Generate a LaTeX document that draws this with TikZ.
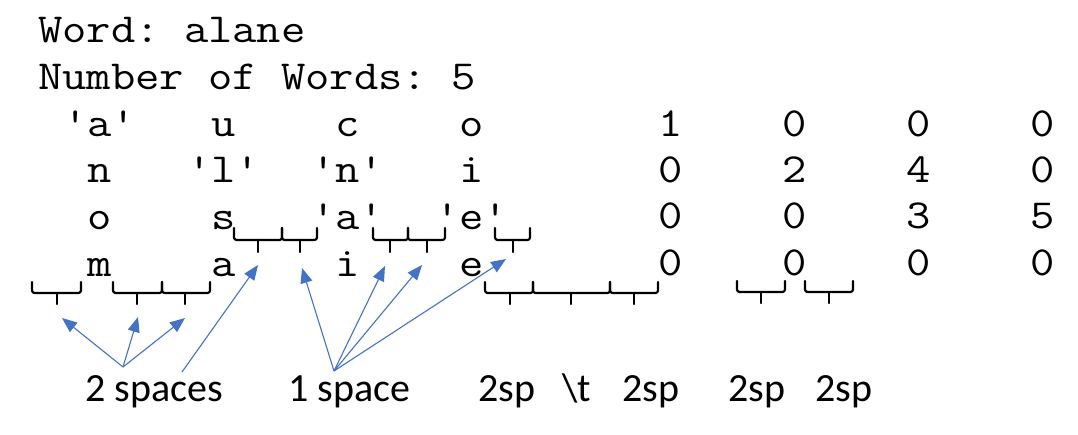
\documentclass[tikz,border=0pt]{standalone}
\usepackage{fontspec}
\setmainfont{Carlito}
\setmonofont{Latin Modern Mono}[FakeStretch=1.143]
\usetikzlibrary{arrows.meta}
\definecolor{arrblue}{HTML}{4472C4}
\tikzset{
  mono/.style={anchor=base west, inner sep=0pt, font=\ttfamily\fontsize{41.3}{48}\selectfont},
  lab/.style={anchor=base west, inner sep=0pt, font=\fontsize{40}{48}\selectfont},
  brc/.style={black, line width=2.2pt, rounded corners=2.5pt, line cap=round, line join=round},
  arr/.style={arrblue, line width=1.1pt, -{Triangle[length=15pt,width=12pt]}},
}
% \ubr{x1}{x2}{xm}{ytop}{yline}{ybot}
\newcommand\ubr[6]{%
  \draw[brc] (#1,#4) -- (#1,#5) -- (#2,#5) -- (#2,#4);
  \draw[brc] (#3,#5) -- (#3,#6);}
\begin{document}
\begin{tikzpicture}[x=1pt,y=-1pt]
\useasboundingbox (0,0) rectangle (1078,435);
% header lines
\node[mono] (w1) at (38,43) {Word: alane};
\node[mono] (w2) at (38,90) {Number of Words: 5};
% row 3
\node[mono] (r3a) at (62.8,137) {'a'};
\node[mono] (r3b) at (211.6,137) {u};
\node[mono] (r3c) at (335.6,137) {c};
\node[mono] (r3d) at (459.6,137) {o};
\node[mono] (r3e) at (658,137) {1};
\node[mono] (r3f) at (782,137) {0};
\node[mono] (r3g) at (906,137) {0};
\node[mono] (r3h) at (1030,137) {0};
% row 4
\node[mono] (r4a) at (87.6,183) {n};
\node[mono] (r4b) at (186.8,183) {'l'};
\node[mono] (r4c) at (310.8,183) {'n'};
\node[mono] (r4d) at (459.6,183) {i};
\node[mono] (r4e) at (658,183) {0};
\node[mono] (r4f) at (782,183) {2};
\node[mono] (r4g) at (906,183) {4};
\node[mono] (r4h) at (1030,183) {0};
% row 5
\node[mono] (r5a) at (87.6,230) {o};
\node[mono] (r5b) at (211.6,230) {s};
\node[mono] (r5c) at (310.8,230) {'a'};
\node[mono] (r5d) at (434.8,230) {'e'};
\node[mono] (r5e) at (658,229) {0};
\node[mono] (r5f) at (782,229) {0};
\node[mono] (r5g) at (906,229) {3};
\node[mono] (r5h) at (1030,229) {5};
% row 6
\node[mono] (r6a) at (87.6,277) {m};
\node[mono] (r6b) at (211.6,277) {a};
\node[mono] (r6c) at (335.6,277) {i};
\node[mono] (r6d) at (459.6,277) {e};
\node[mono] (r6e) at (658,276) {0};
\node[mono] (r6f) at (782,276) {0};
\node[mono] (r6g) at (906,276) {0};
\node[mono] (r6h) at (1030,276) {0};
% space braces, row 5
\ubr{234}{282}{258}{228}{240}{252}
\ubr{282}{317}{300}{228}{240}{252}
\ubr{373}{408}{390}{228}{240}{252}
\ubr{408}{445}{427}{228}{240}{252}
\ubr{495}{530}{513}{228}{240}{252}
% space braces, below row 6
\ubr{32}{81}{57}{282}{293}{304}
\ubr{113}{162}{137}{282}{293}{304}
\ubr{162}{210}{185}{282}{293}{304}
\ubr{485}{533}{510}{282}{293}{304}
\ubr{533}{610}{571}{282}{293}{304}
\ubr{610}{658}{634}{282}{293}{304}
\ubr{737}{785}{761}{281}{292}{303}
\ubr{805}{853}{829}{281}{292}{303}
% labels
\node[lab] (l2s) at (85,401) {2 spaces};
\node[lab] (l1s) at (288,401) {1 space};
\node[lab] (lsa) at (478,401) {2sp};
\node[lab] (lt) at (562,401) {\textbackslash t};
\node[lab] (lsb) at (622,401) {2sp};
\node[lab] (lsc) at (728,401) {2sp};
\node[lab] (lsd) at (815,401) {2sp};
% arrow anchors
\coordinate (o2) at (123,367);
\coordinate (o2b) at (182,372);
\coordinate (o1) at (334,371);
\coordinate (t1) at (62,318);
\coordinate (t2) at (138,317);
\coordinate (t3) at (185,318);
\coordinate (t4) at (258,265);
\coordinate (t5) at (302,268);
\coordinate (t6) at (385,266);
\coordinate (t7) at (422,265);
\coordinate (t8) at (506,259);
\draw[arr] (o2) -- (t1);
\draw[arr] (o2) -- (t2);
\draw[arr] (o2) -- (t3);
\draw[arr] (o2b) -- (t4);
\draw[arr] (o1) -- (t5);
\draw[arr] (o1) -- (t6);
\draw[arr] (o1) -- (t7);
\draw[arr] (o1) -- (t8);
\end{tikzpicture}
\end{document}
